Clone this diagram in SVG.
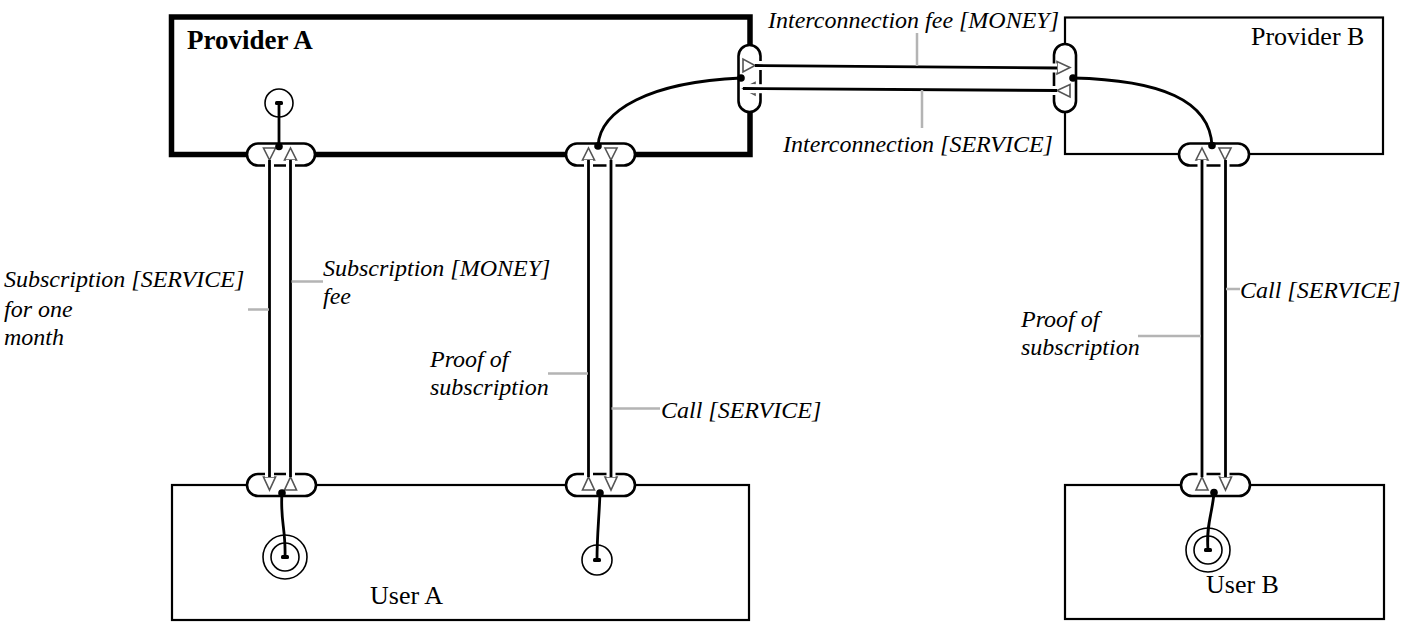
<svg xmlns="http://www.w3.org/2000/svg" width="1408" height="636" viewBox="0 0 1408 636">
<style>
.box{fill:none;stroke:#000;stroke-width:2.2}
.thick{fill:none;stroke:#000;stroke-width:5.5}
.port{fill:#fff;stroke:#000;stroke-width:2.6}
.tri{fill:#fff;stroke:#555;stroke-width:1.6;stroke-linejoin:miter}
.halo{fill:none;stroke:#fff;stroke-width:9}
.ln{fill:none;stroke:#000;stroke-width:2.8}
.lead{fill:none;stroke:#b4b4b4;stroke-width:2.5}
.stim{fill:none;stroke:#000;stroke-width:1.6}
.dot{fill:#000}
</style>
<rect width="1408" height="636" fill="#fff"/>

<g id="provider-a">
<rect class="thick" x="171.5" y="17" width="578.5" height="137.5"/>
<text x="187" y="49" font-family="Liberation Serif, DejaVu Serif, serif" font-size="27" font-weight="bold">Provider A</text>
<g id="provider-a-start">
<circle class="stim" cx="279" cy="103" r="14"/>
</g>
<g id="port-pa-1">
<rect class="port" x="247" y="143.5" width="68" height="22" rx="11"/>
<polygon class="tri" points="263.5,148 275.5,148 269.5,160"/>
<polygon class="tri" points="284.5,160 296.5,160 290.5,148"/>
</g>
<g id="port-pa-2">
<rect class="port" x="566" y="143.5" width="69" height="22" rx="11"/>
<polygon class="tri" points="582.5,160 594.5,160 588.5,148"/>
<polygon class="tri" points="605,148 617,148 611,160"/>
</g>
<g id="port-pa-ic">
<rect class="port" x="738.5" y="45" width="22" height="67" rx="11"/>
<polygon class="tri" points="743,59 743,72 755,65.5"/>
<polygon class="tri" points="755,82.5 755,95 743,88.5"/>
</g>
</g>

<g id="provider-b">
<rect class="box" x="1065" y="17.5" width="318" height="136.5"/>
<text x="1251" y="45" font-family="Liberation Serif, DejaVu Serif, serif" font-size="26">Provider B</text>
<g id="port-pb-ic">
<rect class="port" x="1054" y="44" width="22" height="68" rx="11"/>
<polygon class="tri" points="1057,61.5 1057,74 1070,67.5"/>
<polygon class="tri" points="1070,84.5 1070,97 1057,90.5"/>
</g>
<g id="port-pb-1">
<rect class="port" x="1179" y="143.5" width="70" height="22" rx="11"/>
<polygon class="tri" points="1196,160 1208,160 1202,148"/>
<polygon class="tri" points="1219,148 1231,148 1225,160"/>
</g>
</g>

<g id="user-a">
<rect class="box" x="172" y="485" width="577" height="135"/>
<text x="370" y="604" font-family="Liberation Serif, DejaVu Serif, serif" font-size="26">User A</text>
<g id="port-ua-1">
<rect class="port" x="247" y="474" width="69" height="22" rx="11"/>
<polygon class="tri" points="263.5,477 275.5,477 269.5,490"/>
<polygon class="tri" points="284.5,490 296.5,490 290.5,477"/>
</g>
<g id="port-ua-2">
<rect class="port" x="566" y="474" width="69" height="22" rx="11"/>
<polygon class="tri" points="582.5,490 594.5,490 588.5,477"/>
<polygon class="tri" points="605,477 617,477 611,490"/>
</g>
<g id="user-a-end-1">
<circle class="stim" cx="285" cy="557" r="22"/>
<circle class="stim" cx="285" cy="557" r="14"/>
</g>
<g id="user-a-end-2">
<circle class="stim" cx="597" cy="560" r="15"/>
</g>
</g>

<g id="user-b">
<rect class="box" x="1065" y="485" width="319" height="134"/>
<text x="1206" y="593" font-family="Liberation Serif, DejaVu Serif, serif" font-size="26">User B</text>
<g id="port-ub-1">
<rect class="port" x="1181" y="474" width="69" height="22" rx="11"/>
<polygon class="tri" points="1196,490 1208,490 1202,477"/>
<polygon class="tri" points="1219.5,477 1231.5,477 1225.5,490"/>
</g>
<g id="user-b-end">
<circle class="stim" cx="1208" cy="550" r="22"/>
<circle class="stim" cx="1208" cy="550" r="14"/>
</g>
</g>

<g id="connectors">
<path class="halo" d="M269.5,160 V477 M290.5,160 V477 M588.5,160 V477 M611,160 V477 M1202,160 V477 M1225,160 V477 M755,65.5 L1057,68 M743,88.5 L1057,90.5"/>
<path class="ln" d="M269.5,160 V477 M290.5,160 V477 M588.5,160 V477 M611,160 V477 M1202,160 V477 M1225.5,160 V477 M755,65.5 L1057,68 M743,88.5 L1057,90.5"/>
<path class="ln" d="M279,103 V147"/>
<path class="ln" d="M598,146 C600,110 650,82 741,78"/>
<path class="ln" d="M1073,78 C1160,80 1210,100 1212,146"/>
<path class="ln" d="M282,493 C280,520 286,530 285,557"/>
<path class="ln" d="M600,493 C599,520 597,535 597,560"/>
<path class="ln" d="M1214,493 C1212,515 1206,525 1208,550"/>
<rect class="dot" x="275" y="101" width="8" height="4" rx="1.5"/>
<rect class="dot" x="281" y="555" width="8" height="4" rx="1.5"/>
<rect class="dot" x="593" y="558" width="8" height="4" rx="1.5"/>
<rect class="dot" x="1204" y="548" width="8" height="4" rx="1.5"/>
<circle class="dot" cx="279" cy="146.5" r="3.8"/>
<circle class="dot" cx="598" cy="146" r="3.8"/>
<circle class="dot" cx="741" cy="78" r="3.8"/>
<circle class="dot" cx="1073" cy="78" r="3.8"/>
<circle class="dot" cx="1212" cy="145.5" r="3.8"/>
<circle class="dot" cx="282" cy="493" r="3.8"/>
<circle class="dot" cx="600" cy="493" r="3.8"/>
<circle class="dot" cx="1214" cy="492.5" r="3.8"/>
<path class="lead" d="M917,33 V66 M922,90 V128 M248,309.5 H269 M291.5,281.5 H323 M548,373.5 H588 M611.5,408.5 H660 M1226,289 H1240 M1138,336 H1201"/>
</g>

<g id="labels" font-family="Liberation Serif, DejaVu Serif, serif" font-style="italic" font-size="24">
<text x="768" y="28">Interconnection fee [MONEY]</text>
<text x="783" y="152">Interconnection [SERVICE]</text>
<text x="4" y="287">Subscription [SERVICE]</text>
<text x="4" y="317">for one</text>
<text x="4" y="345">month</text>
<text x="323" y="276">Subscription [MONEY]</text>
<text x="323" y="304">fee</text>
<text x="430" y="367">Proof of</text>
<text x="430" y="395">subscription</text>
<text x="661" y="418">Call [SERVICE]</text>
<text x="1240" y="298">Call [SERVICE]</text>
<text x="1021" y="327">Proof of</text>
<text x="1021" y="355">subscription</text>
</g>
</svg>
